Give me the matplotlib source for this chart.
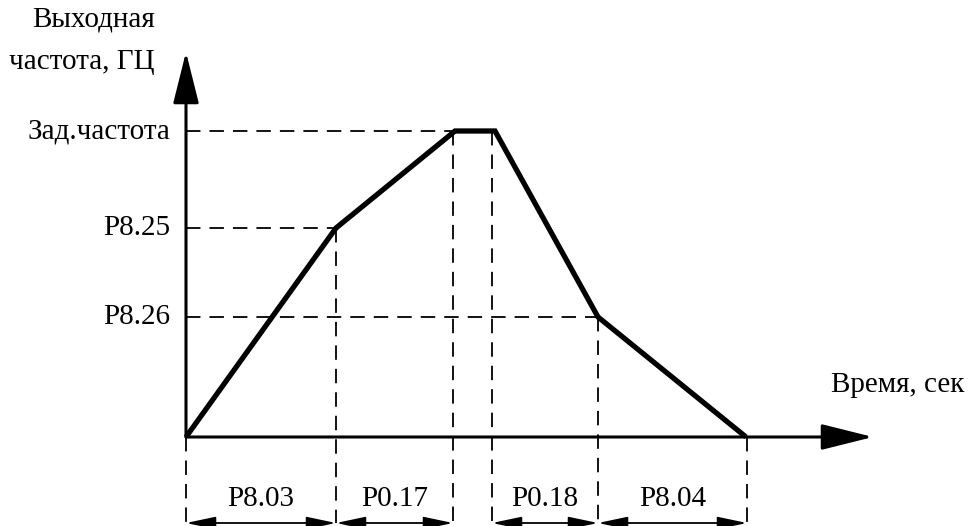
import matplotlib
matplotlib.use("Agg")
import matplotlib.pyplot as plt

# Data (units: horizontal/vertical distance from origin, in drawing units)
times = [0, 150, 269, 309, 412, 560]
freqs = [0, 209, 306, 306, 120, 0]
level_labels = ["Зад.частота", "P8.25", "P8.26"]
level_values = [306, 209, 120]
level_x_end = [269, 150, 412]
interval_labels = ["P8.03", "P0.17", "P0.18", "P8.04"]
interval_bounds = [(0, 150), (150, 267), (306, 412), (412, 561)]
vline_x = [0, 150, 267, 306, 412, 561]
vline_top = [0, 209, 306, 306, 120, 0]

plt.rcParams['font.family'] = ['Liberation Serif', 'DejaVu Serif']

fig = plt.figure(figsize=(9.74, 5.26), dpi=100)
ax = fig.add_axes([0, 0, 1, 1])
ax.set_xlim(-186, 974 - 186)
ax.set_ylim(-(526 - 437), 437)
ax.axis('off')

fs = 21
dim_y = -86

# dashed horizontal guide lines
for v, xe in zip(level_values, level_x_end):
    ax.plot([0, xe], [v, v], color='black', lw=1.3, ls=(0, (8, 5)))
# dashed vertical guide lines
for x, top in zip(vline_x, vline_top):
    ax.plot([x, x], [top, dim_y], color='black', lw=1.3, ls=(0, (8, 5)))

# axes arrows
ax.annotate('', xy=(0, 437 - 52), xytext=(0, 0),
            arrowprops=dict(arrowstyle='-|>,head_length=1.6,head_width=0.4',
                            lw=2.2, color='black', mutation_scale=20,
                            shrinkA=0, shrinkB=0))
ax.annotate('', xy=(873 - 186, 0), xytext=(0, 0),
            arrowprops=dict(arrowstyle='-|>,head_length=1.6,head_width=0.4',
                            lw=2.2, color='black', mutation_scale=20,
                            shrinkA=0, shrinkB=0))

# main profile
ax.plot(times, freqs, color='black', lw=3.8, solid_joinstyle='miter',
        solid_capstyle='butt', zorder=5)

# level labels
for lab, v in zip(level_labels, level_values):
    ax.text(-16, v, lab, ha='right', va='center', fontsize=fs)

ax.text(-31, 437 - 20, "Выходная", ha='right', va='center', fontsize=fs)
ax.text(-31, 437 - 62, "частота, ГЦ", ha='right', va='center', fontsize=fs)
ax.text(898 - 186, 437 - 385, "Время, сек", ha='center', va='center', fontsize=fs)

# interval dimension arrows
for lab, (a, b) in zip(interval_labels, interval_bounds):
    ax.annotate('', xy=(b, dim_y), xytext=(a, dim_y),
                arrowprops=dict(arrowstyle='<|-|>,head_length=1.8,head_width=0.38',
                                lw=1.3, color='black', mutation_scale=10,
                                shrinkA=0, shrinkB=0))
    ax.text((a + b) / 2, dim_y + 24, lab, ha='center', va='center', fontsize=fs)

fig.savefig('out.png', dpi=100, facecolor='white')
